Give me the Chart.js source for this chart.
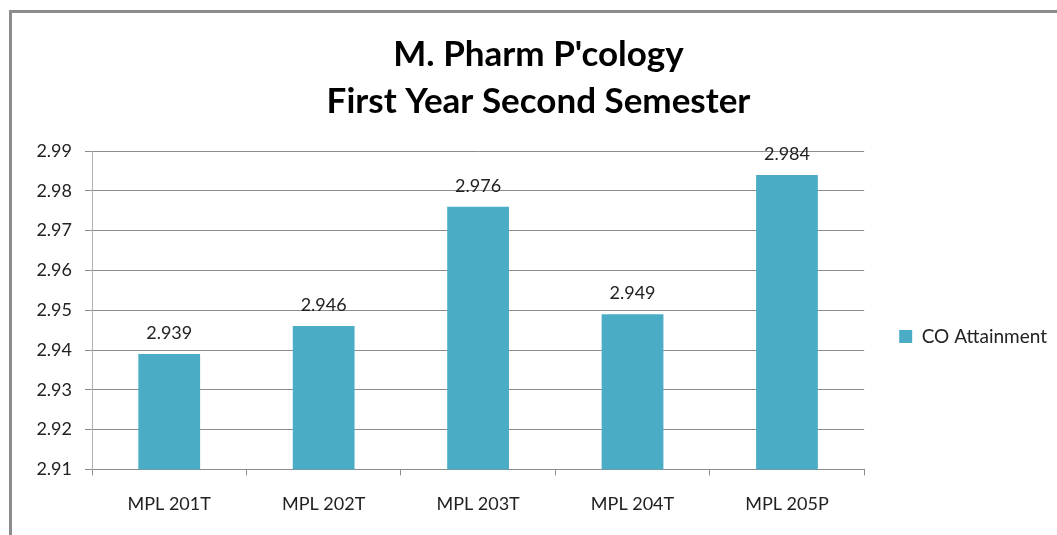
<!DOCTYPE html>
<html>
<head>
<meta charset="utf-8">
<script src="https://cdn.jsdelivr.net/npm/chart.js@4"></script>
<style>
  body { margin: 0; background: #fff; }
  #frame { position: absolute; left: 9px; top: 10px; width: 1060px; height: 540px;
           border-top: 3px solid #8c8c8c; border-left: 3px solid #8c8c8c; }
  #wrap { position: absolute; left: 0; top: 0; width: 1057px; height: 535px; }
</style>
</head>
<body>
<div id="frame"></div>
<div id="wrap"><canvas id="cochart"></canvas></div>
<script>
const courses = ['MPL 201T', 'MPL 202T', 'MPL 203T', 'MPL 204T', 'MPL 205P'];
const attainment = [2.939, 2.946, 2.976, 2.949, 2.984];
const titleLines = ["M. Pharm P'cology", 'First Year Second Semester'];
const seriesName = 'CO Attainment';

const fontFamily = 'Lato, "Open Sans", sans-serif';

// value labels above every bar
const barLabels = {
  id: 'barLabels',
  afterDatasetsDraw(chart) {
    const ctx = chart.ctx;
    const meta = chart.getDatasetMeta(0);
    ctx.save();
    ctx.font = '18px ' + fontFamily;
    ctx.fillStyle = '#222';
    ctx.textAlign = 'center';
    ctx.textBaseline = 'alphabetic';
    meta.data.forEach((bar, i) => {
      ctx.fillText(attainment[i].toFixed(3), bar.x, bar.y - 15);
    });
    ctx.restore();
  },
};

new Chart(document.getElementById('cochart'), {
  type: 'bar',
  data: {
    labels: courses,
    datasets: [
      {
        label: seriesName,
        data: attainment,
        backgroundColor: '#4bacc6',
        borderWidth: 0,
        categoryPercentage: 1,
        barPercentage: 0.4,
      },
    ],
  },
  options: {
    responsive: true,
    maintainAspectRatio: false,
    animation: false,
    layout: {
      padding: { left: 20, right: 0, top: 0, bottom: 2 },
    },
    plugins: {
      title: {
        display: true,
        text: titleLines,
        color: '#000',
        font: { family: fontFamily, size: 35, weight: 'bold', lineHeight: 1.343 },
        padding: { top: 31, bottom: 26 },
      },
      legend: {
        position: 'right',
        // blank legend title only pushes the entry down to mid plot
        title: {
          display: true,
          text: ' ',
          font: { size: 10, lineHeight: 1 },
          padding: { top: 130, bottom: 0 },
        },
        labels: {
          color: '#222',
          boxWidth: 13,
          boxHeight: 13,
          padding: 12,
          font: { family: fontFamily, size: 19 },
        },
      },
      tooltip: { enabled: false },
    },
    scales: {
      x: {
        grid: {
          offset: true,
          drawOnChartArea: false,
          tickLength: 6,
          color: '#8c8c8c',
        },
        border: { color: '#8c8c8c' },
        ticks: {
          color: '#222',
          padding: 18,
          font: { family: fontFamily, size: 18 },
        },
      },
      y: {
        min: 2.91,
        max: 2.99,
        afterFit(scale) {
          scale.width = 72;
        },
        grid: {
          color: '#8c8c8c',
          tickLength: 7,
        },
        border: { color: '#b0b0b0' },
        ticks: {
          stepSize: 0.01,
          color: '#222',
          padding: 13,
          font: { family: fontFamily, size: 18 },
          callback: (v) => v.toFixed(2),
        },
      },
      // empty spacer between the plot and the legend
      gap: {
        position: 'right',
        display: true,
        afterFit(scale) {
          scale.width = 23;
        },
        grid: { display: false },
        border: { display: false },
        ticks: { display: false },
      },
    },
  },
  plugins: [barLabels],
});
</script>
</body>
</html>
